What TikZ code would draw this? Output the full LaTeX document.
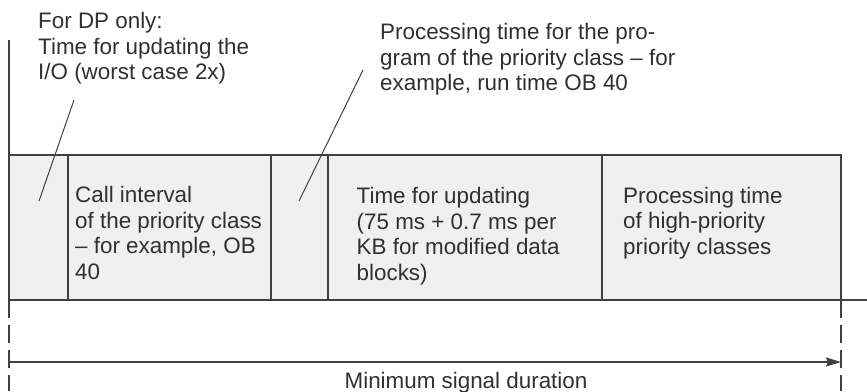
\documentclass[tikz,border=0pt]{standalone}
\usepackage{fontspec}
\setmainfont{Liberation Sans}
\usepackage{tikz}
\usetikzlibrary{arrows.meta,positioning,calc}

\definecolor{boxgray}{HTML}{F0F0F0}
\definecolor{linegray}{HTML}{404040}
\definecolor{txtgray}{HTML}{303030}
\newcommand\lblfont{\fontsize{22.4}{25.4}\selectfont}

\begin{document}
\begin{tikzpicture}[x=1pt,y=-1pt,>=Stealth,
  rim/.style={draw=linegray,line width=1.4pt},
  cell/.style={rim,fill=boxgray,minimum height=145pt,inner sep=0pt,outer sep=0pt,anchor=north west},
  lbl/.style={anchor=base west,align=left,inner sep=0pt,text=txtgray,font=\lblfont},
  leader/.style={draw=linegray,line width=1pt}]
  \useasboundingbox (0,0) rectangle (867,391);
  % slices of the signal
  \node[cell,minimum width=59pt] (dp) at (9,155) {};
  \node[cell,minimum width=203pt,right=0pt of dp] (call) {};
  \node[cell,minimum width=57pt,right=0pt of call] (prog) {};
  \node[cell,minimum width=274pt,right=0pt of prog] (upd) {};
  \node[cell,minimum width=239pt,right=0pt of upd] (hp) {};
  \coordinate (rimR) at (867,300);
  \draw[rim] (hp.south east) -- (rimR);
  \draw[rim] (dp.north west) -- ++(0,-115);
  \foreach \c in {dp.south west,hp.south east}
    \draw[rim,dash pattern=on 18pt off 7pt] (\c) -- ++(0,91);
  % texts in the slices (placed by the baseline of their last line)
  \node[lbl] (callTxt) at ($(call.north west)+(7,124)$) {Call interval\\of the priority class\\– for example, OB\\40};
  \node[lbl] (updTxt) at ($(upd.north west)+(28.5,125)$) {Time for updating\\(75 ms + 0.7 ms per\\KB for modified data\\blocks)};
  \node[lbl] (hpTxt) at ($(hp.north west)+(21,99)$) {Processing time\\of high-priority\\priority classes};
  % notes above
  \node[lbl] (dpNote) at (38,79.5) {For DP only:\\Time for updating the\\I/O (worst case 2x)};
  \node[lbl] (progNote) at (380,90.7) {Processing time for the pro-\\gram of the priority class – for\\example, run time OB 40};
  \coordinate (dpLeadTop) at (74,100);
  \coordinate (dpLeadEnd) at (39,201);
  \coordinate (progLeadTop) at (363,70);
  \coordinate (progLeadEnd) at (299,201);
  \draw[leader] (dpLeadTop) -- (dpLeadEnd);
  \draw[leader] (progLeadTop) -- (progLeadEnd);
  % duration
  \coordinate (durL) at ($(dp.south west)+(0,62)$);
  \coordinate (durR) at ($(hp.south east)+(0,62)$);
  \draw[rim,-{Stealth[length=15pt,width=9pt,inset=2pt]}] (durL) -- (durR);
  \node[lbl,anchor=base] (durLbl) at (466,388) {Minimum signal duration};
\end{tikzpicture}
\end{document}
